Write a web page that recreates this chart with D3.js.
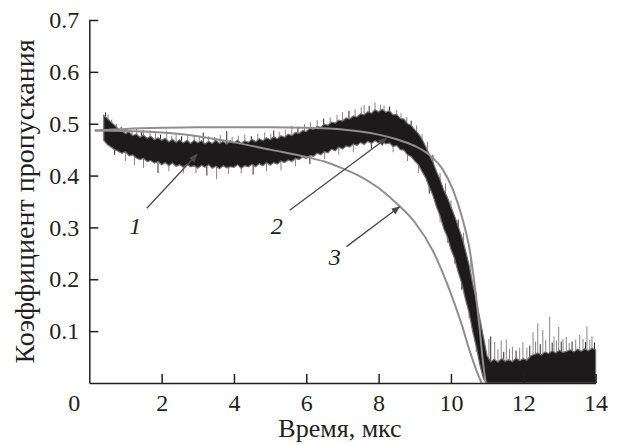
<!DOCTYPE html>
<html>
<head>
<meta charset="utf-8">
<script src="https://cdn.jsdelivr.net/npm/d3@7"></script>
<style>
	body { margin: 0; background: #fff; }
	text { font-family: 'Liberation Serif', 'Times New Roman', serif; fill: #231f20; }
</style>
</head>
<body>
<div id="chart"></div>
<script>
const bandTime = d3.range(4, 141).map(i => i / 10)
const bandLow = [0.468, 0.460, 0.455, 0.450, 0.447, 0.443, 0.446, 0.438, 0.440, 0.434,
	0.431, 0.433, 0.427, 0.429, 0.424, 0.427, 0.421, 0.425, 0.419, 0.424,
	0.418, 0.421, 0.416, 0.422, 0.417, 0.419, 0.414, 0.420, 0.416, 0.421,
	0.414, 0.418, 0.413, 0.419, 0.415, 0.417, 0.416, 0.421, 0.414, 0.419,
	0.417, 0.422, 0.417, 0.423, 0.419, 0.425, 0.420, 0.425, 0.422, 0.428,
	0.425, 0.430, 0.427, 0.433, 0.431, 0.436, 0.433, 0.439, 0.437, 0.443,
	0.440, 0.446, 0.444, 0.451, 0.448, 0.455, 0.451, 0.457, 0.455, 0.461,
	0.458, 0.464, 0.460, 0.466, 0.462, 0.467, 0.463, 0.466, 0.461, 0.463,
	0.456, 0.458, 0.450, 0.449, 0.440, 0.437, 0.428, 0.421, 0.408, 0.396,
	0.378, 0.362, 0.340, 0.322, 0.298, 0.282, 0.258, 0.240, 0.214, 0.192,
	0.162, 0.136, 0.100, 0.070, 0.035, 0.008, 0, 0, 0, 0,
	0, 0, 0, 0, 0, 0, 0, 0, 0, 0,
	0, 0, 0, 0, 0, 0, 0, 0, 0, 0,
	0, 0, 0, 0, 0, 0, 0]
const bandHigh = [0.516, 0.510, 0.503, 0.497, 0.490, 0.486, 0.481, 0.484, 0.477, 0.480,
	0.474, 0.478, 0.472, 0.476, 0.469, 0.473, 0.468, 0.472, 0.465, 0.470,
	0.464, 0.469, 0.463, 0.468, 0.462, 0.468, 0.463, 0.467, 0.461, 0.466,
	0.462, 0.468, 0.462, 0.466, 0.461, 0.467, 0.463, 0.468, 0.462, 0.467,
	0.464, 0.470, 0.465, 0.471, 0.467, 0.473, 0.469, 0.475, 0.471, 0.477,
	0.474, 0.480, 0.477, 0.483, 0.481, 0.487, 0.485, 0.491, 0.489, 0.495,
	0.493, 0.499, 0.497, 0.503, 0.501, 0.507, 0.505, 0.511, 0.509, 0.515,
	0.513, 0.519, 0.517, 0.523, 0.520, 0.527, 0.523, 0.528, 0.522, 0.525,
	0.517, 0.518, 0.510, 0.509, 0.500, 0.497, 0.488, 0.481, 0.470, 0.456,
	0.440, 0.426, 0.408, 0.392, 0.372, 0.358, 0.340, 0.322, 0.302, 0.282,
	0.256, 0.228, 0.192, 0.160, 0.124, 0.088, 0.052, 0.041, 0.046, 0.040,
	0.047, 0.042, 0.045, 0.041, 0.048, 0.043, 0.047, 0.044, 0.052, 0.055,
	0.058, 0.054, 0.060, 0.057, 0.062, 0.058, 0.063, 0.059, 0.061, 0.064,
	0.060, 0.065, 0.061, 0.066, 0.062, 0.067, 0.064]

// single noise spikes sticking out of the band
const spikeTime = [0.45, 0.52, 0.62, 0.75, 0.88, 1.05, 1.18, 1.31, 1.44, 1.5, 1.68, 1.83, 1.97, 2.14, 2.28, 2.4, 2.55, 2.72, 2.9, 3.04,
	3.15, 3.3, 3.46, 3.62, 3.8, 3.95, 4.12, 4.3, 4.48, 4.66, 4.85, 5.02, 5.1, 5.25, 5.42, 5.6, 5.77, 5.95, 6.12, 6.3,
	6.48, 6.66, 6.85, 7.0, 7.18, 7.35, 7.52, 7.6, 7.74, 7.9, 8.05, 8.15, 8.3, 8.5, 8.62, 8.78, 8.9, 9.05, 9.2, 9.35,
	9.5, 9.7, 9.85, 10.0, 10.2, 10.35, 10.55, 10.7,
	0.7, 1.0, 1.25, 1.5, 1.9, 2.2, 2.6, 2.95, 3.25, 3.52, 3.85, 4.2, 4.53, 4.9, 5.3, 5.7, 6.1, 6.5, 6.9, 7.3,
	7.8, 8.4, 8.8, 9.1, 9.4, 9.7, 9.9, 10.1, 10.3, 10.5, 10.7,
	11.05, 11.1, 11.21, 11.3, 11.39, 11.46, 11.53, 11.62, 11.7, 11.8, 11.9, 11.99, 12.1, 12.18, 12.27, 12.34, 12.4, 12.47, 12.54, 12.62,
	12.73, 12.8, 12.85, 12.92, 12.98, 13.05, 13.1, 13.19, 13.27, 13.35, 13.45, 13.56, 13.65, 13.72, 13.76, 13.84, 13.9, 13.97]
const spikeValue = [0.522, 0.518, 0.508, 0.500, 0.494, 0.490, 0.487, 0.491, 0.484, 0.488, 0.487, 0.482, 0.479, 0.486, 0.477, 0.481, 0.476, 0.479, 0.478, 0.474,
	0.483, 0.476, 0.474, 0.478, 0.486, 0.475, 0.477, 0.479, 0.476, 0.481, 0.483, 0.480, 0.487, 0.484, 0.489, 0.496, 0.494, 0.499, 0.503, 0.507,
	0.510, 0.512, 0.517, 0.522, 0.525, 0.528, 0.532, 0.536, 0.534, 0.541, 0.537, 0.535, 0.533, 0.527, 0.520, 0.513, 0.506, 0.497, 0.480, 0.465,
	0.440, 0.405, 0.385, 0.352, 0.315, 0.290, 0.240, 0.175,
	0.440, 0.428, 0.420, 0.415, 0.405, 0.408, 0.404, 0.405, 0.400, 0.393, 0.403, 0.404, 0.402, 0.408, 0.410, 0.418, 0.422, 0.432, 0.440, 0.445,
	0.452, 0.445, 0.428, 0.405, 0.365, 0.310, 0.270, 0.230, 0.180, 0.125, 0.060,
	0.085, 0.090, 0.079, 0.065, 0.082, 0.060, 0.084, 0.066, 0.070, 0.063, 0.068, 0.079, 0.068, 0.072, 0.098, 0.080, 0.115, 0.075, 0.102, 0.083,
	0.128, 0.078, 0.090, 0.082, 0.108, 0.080, 0.085, 0.089, 0.077, 0.080, 0.084, 0.093, 0.085, 0.079, 0.109, 0.083, 0.090, 0.078]

// Model curves 2 and 3
const curve2Time = [0.15, 1, 2, 3, 4, 5, 6, 7, 7.5, 8.0, 8.5, 9.0, 9.4, 9.78, 10.06, 10.33, 10.52, 10.65, 10.79, 10.88, 10.96]
const curve2Value = [0.487, 0.490, 0.492, 0.493, 0.493, 0.493, 0.492, 0.489, 0.485, 0.479, 0.470, 0.457, 0.440, 0.411, 0.372, 0.314, 0.256, 0.192, 0.108, 0.044, 0.0]
const curve3Time = [0.15, 1.5, 3.0, 4.0, 5.0, 6.0, 6.5, 7.0, 7.5, 8.0, 8.5, 9.0, 9.5, 10.0, 10.3, 10.5, 10.7, 10.85]
const curve3Value = [0.487, 0.485, 0.476, 0.464, 0.450, 0.436, 0.427, 0.414, 0.398, 0.376, 0.346, 0.310, 0.255, 0.172, 0.112, 0.066, 0.025, 0.0]

// Curve labels and arrows
const curveLabels = ['1', '2', '3']
const labelTime = [1.27, 5.18, 6.79]
const labelValue = [0.288, 0.288, 0.227]
const arrowFrom = [[1.59, 0.337], [5.54, 0.333], [7.11, 0.263]]
const arrowTo = [[2.98, 0.441], [8.22, 0.472], [8.58, 0.340]]

const xTicks = [2, 4, 6, 8, 10, 12, 14]
const yTicks = [0.1, 0.2, 0.3, 0.4, 0.5, 0.6, 0.7]

function draw() {
	let dimensions = {
		width: 619,
		height: 444,
		margin: { top: 20, bottom: 61, left: 89.3, right: 23.4 }
	}
	dimensions.ctrWidth = dimensions.width - dimensions.margin.left - dimensions.margin.right
	dimensions.ctrHeight = dimensions.height - dimensions.margin.top - dimensions.margin.bottom

	const svg = d3.select('#chart')
		.append('svg')
		.attr('width', dimensions.width)
		.attr('height', dimensions.height)

	const ctr = svg.append('g')
		.attr('transform', `translate(${dimensions.margin.left}, ${dimensions.margin.top})`)

	// Scales
	const xScale = d3.scaleLinear().domain([0, 14]).range([0, dimensions.ctrWidth])
	const yScale = d3.scaleLinear().domain([0, 0.7]).range([dimensions.ctrHeight, 0])

	// spikes start from the middle of the band
	const bandMid = d3.scaleLinear()
		.domain(bandTime)
		.range(bandTime.map((t, i) => (bandLow[i] + bandHigh[i]) / 2))
		.clamp(true)

	ctr.selectAll('.spike')
		.data(spikeTime.map((t, i) => ({ t, v: spikeValue[i] })))
		.join('line')
		.attr('class', 'spike')
		.attr('x1', d => xScale(d.t))
		.attr('x2', d => xScale(d.t))
		.attr('y1', d => yScale(bandMid(d.t)))
		.attr('y2', d => yScale(d.v))
		.attr('stroke', (d, i) => i % 4 === 0 ? '#2a2a2a' : '#858585')
		.attr('stroke-width', 1)

	// Band (curve 1)
	const band = bandTime.map((t, i) => ({ t, lo: bandLow[i], hi: bandHigh[i] }))
	const area = d3.area()
		.x(d => xScale(d.t))
		.y0(d => yScale(d.lo))
		.y1(d => yScale(d.hi))

	ctr.append('path')
		.datum(band)
		.attr('d', area)
		.attr('fill', '#1d1a1b')
		.attr('stroke', '#707070')
		.attr('stroke-width', 1.2)
		.attr('stroke-linejoin', 'miter')

	// Model curves
	const line = d3.line()
		.x(d => xScale(d[0]))
		.y(d => yScale(d[1]))
		.curve(d3.curveMonotoneX)

	ctr.append('path')
		.datum(curve2Time.map((t, i) => [t, curve2Value[i]]))
		.attr('d', line)
		.attr('fill', 'none')
		.attr('stroke', '#8e8e8e')
		.attr('stroke-width', 2)

	ctr.append('path')
		.datum(curve3Time.map((t, i) => [t, curve3Value[i]]))
		.attr('d', line)
		.attr('fill', 'none')
		.attr('stroke', '#8e8e8e')
		.attr('stroke-width', 2)

	// Arrows
	svg.append('defs').append('marker')
		.attr('id', 'head')
		.attr('viewBox', '0 0 10 10')
		.attr('refX', 9)
		.attr('refY', 5)
		.attr('markerWidth', 9)
		.attr('markerHeight', 9)
		.attr('markerUnits', 'userSpaceOnUse')
		.attr('orient', 'auto')
		.append('path')
		.attr('d', 'M0,1 L10,5 L0,9 Z')
		.attr('fill', '#4a4a4a')

	ctr.selectAll('.arrow')
		.data(arrowFrom.map((f, i) => ({ f, to: arrowTo[i] })))
		.join('line')
		.attr('class', 'arrow')
		.attr('x1', d => xScale(d.f[0]))
		.attr('y1', d => yScale(d.f[1]))
		.attr('x2', d => xScale(d.to[0]))
		.attr('y2', d => yScale(d.to[1]))
		.attr('stroke', '#4a4a4a')
		.attr('stroke-width', 1.3)
		.attr('marker-end', 'url(#head)')

	ctr.selectAll('.clabel')
		.data(curveLabels)
		.join('text')
		.attr('class', 'clabel')
		.attr('x', (d, i) => xScale(labelTime[i]))
		.attr('y', (d, i) => yScale(labelValue[i]))
		.attr('text-anchor', 'middle')
		.style('font-size', '24px')
		.style('font-style', 'italic')
		.text(d => d)

	// Axes
	const xAxis = d3.axisBottom(xScale)
		.tickValues(xTicks)
		.tickSizeInner(-9)
		.tickSizeOuter(0)
		.tickFormat(d3.format('d'))

	const xAxisGroup = ctr.append('g')
		.attr('transform', `translate(0, ${dimensions.ctrHeight})`)
		.call(xAxis)
	xAxisGroup.selectAll('text')
		.attr('y', 28)
		.attr('dy', null)
		.style('font-size', '24px')
		.style('font-family', "'Liberation Serif', serif")
		.attr('fill', '#231f20')

	const yAxis = d3.axisLeft(yScale)
		.tickValues(yTicks)
		.tickSizeInner(-9)
		.tickSizeOuter(0)
		.tickFormat(d3.format('.1f'))

	const yAxisGroup = ctr.append('g').call(yAxis)
	yAxisGroup.selectAll('text')
		.attr('x', -10)
		.style('font-size', '24px')
		.style('font-family', "'Liberation Serif', serif")
		.attr('fill', '#231f20')

	ctr.selectAll('.domain, .tick line')
		.attr('stroke', '#231f20')
		.attr('stroke-width', 1.5)

	// shared origin label
	ctr.append('text')
		.attr('x', xScale(0) - 15)
		.attr('y', dimensions.ctrHeight + 28)
		.attr('text-anchor', 'middle')
		.style('font-size', '24px')
		.text('0')

	// Axis titles
	svg.append('text')
		.attr('x', 340)
		.attr('y', 437)
		.attr('text-anchor', 'middle')
		.style('font-size', '26px')
		.text('Время, мкс')

	svg.append('text')
		.attr('transform', `translate(34, ${dimensions.margin.top + dimensions.ctrHeight / 2}) rotate(-90)`)
		.attr('text-anchor', 'middle')
		.style('font-size', '28px')
		.text('Коэффициент пропускания')
}

draw()
</script>
</body>
</html>
